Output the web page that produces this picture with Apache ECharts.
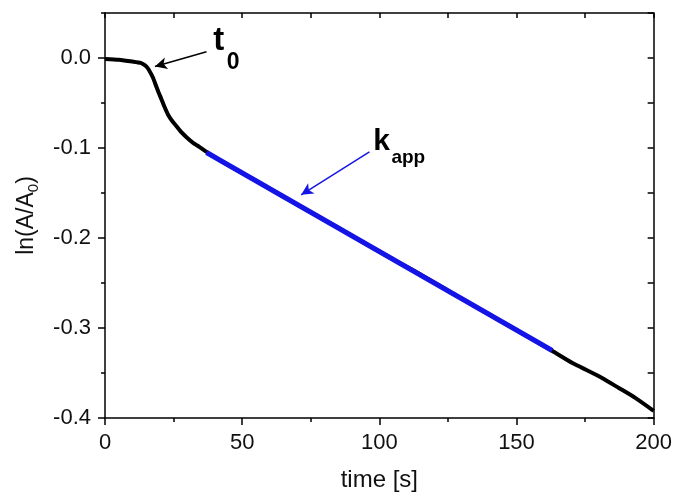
<!DOCTYPE html>
<html>
<head>
<meta charset="utf-8">
<script src="https://cdn.jsdelivr.net/npm/echarts@6/dist/echarts.min.js"></script>
<style>
  html, body { margin: 0; padding: 0; background: #fff; }
  #chart { width: 675px; height: 497px; }
</style>
</head>
<body>
<div id="chart"></div>
<script>
// measured curve (black)
const timeData = [0, 5, 10, 13, 14.5, 15.5, 16.5, 17.5, 18.5, 19.5, 20.6, 21.8, 23, 24.5, 26, 28, 29.7, 32, 34.5, 38.2, 45, 55, 65, 75, 85, 95, 105, 115, 125, 135, 145, 155, 162.5, 170.4, 176.4, 181.2, 187.3, 193.3, 200];
const lnData = [-0.001, -0.002, -0.004, -0.0055, -0.008, -0.011, -0.016, -0.022, -0.030, -0.038, -0.046, -0.055, -0.063, -0.070, -0.0755, -0.083, -0.088, -0.094, -0.099, -0.1066, -0.1192, -0.1365, -0.1542, -0.1715, -0.1886, -0.2063, -0.2238, -0.2405, -0.2585, -0.2762, -0.2935, -0.311, -0.3245, -0.339, -0.348, -0.3555, -0.3666, -0.3776, -0.392];
// linear fit (blue)
const fitTime = [37, 163];
const fitData = [-0.105, -0.325];
// y tick labels
const yTicks = [-0.4, -0.3, -0.2, -0.1, 0.0];

// annotation anchors, in data units
const t0Arrow = [[37, 0.007], [18.2, -0.0095]];
const kArrow = [[96.4, -0.1044], [71.5, -0.152]];

const chart = echarts.init(document.getElementById('chart'));
const black = '#000';
const blue = '#1414e6';
const font = 'Liberation Sans, Arial, sans-serif';

const tickStyle = { color: black, width: 1.5 };

const option = {
  backgroundColor: '#fff',
  animation: false,
  grid: { left: 105, right: 20, top: 13, bottom: 75, containLabel: false },
  xAxis: [
    {
      type: 'value', position: 'bottom', min: 0, max: 200, interval: 50,
      axisLine: { show: true, onZero: false, lineStyle: { color: black, width: 1.5 } },
      axisTick: { show: true, inside: false, length: 7, lineStyle: tickStyle },
      minorTick: { show: true, splitNumber: 2, length: 4, lineStyle: tickStyle },
      splitLine: { show: false },
      axisLabel: { color: '#111', fontSize: 22, fontFamily: font, margin: 14 },
      name: 'time [s]', nameLocation: 'middle', nameGap: 50,
      nameTextStyle: { color: '#111', fontSize: 24, fontFamily: font }
    },
    {
      type: 'value', position: 'top', min: 0, max: 200, interval: 25,
      axisLine: { show: true, onZero: false, lineStyle: { color: black, width: 1.5 } },
      axisTick: { show: true, inside: true, length: 5, lineStyle: tickStyle },
      axisLabel: { show: false },
      splitLine: { show: false }
    }
  ],
  yAxis: [
    {
      type: 'value', position: 'left', min: -0.4, max: 0.05, interval: 0.1,
      axisLine: { show: true, onZero: false, lineStyle: { color: black, width: 1.5 } },
      axisTick: { show: true, inside: false, length: 7, lineStyle: tickStyle },
      splitLine: { show: false },
      axisLabel: {
        color: '#111', fontSize: 22, fontFamily: font, margin: 14, showMaxLabel: false,
        formatter: function (v) {
          const hit = yTicks.find(function (t) { return Math.abs(t - v) < 1e-6; });
          return hit === undefined ? '' : hit.toFixed(1);
        }
      },
      name: 'ln(A/A{sub|0})', nameLocation: 'middle', nameGap: 64,
      nameTextStyle: {
        color: '#111', fontSize: 23, fontFamily: font, lineHeight: 28,
        rich: {
          sub: { fontSize: 15, fontFamily: font, color: '#111', verticalAlign: 'bottom', lineHeight: 15 }
        }
      }
    },
    {
      type: 'value', position: 'left', min: -0.4, max: 0.05, interval: 0.05,
      axisLine: { show: false },
      axisTick: { show: true, inside: false, length: 4, lineStyle: tickStyle },
      axisLabel: { show: false },
      splitLine: { show: false }
    },
    {
      type: 'value', position: 'right', min: -0.4, max: 0.05, interval: 0.05,
      axisLine: { show: true, onZero: false, lineStyle: { color: black, width: 1.5 } },
      axisTick: { show: true, inside: true, length: 6, lineStyle: tickStyle },
      axisLabel: { show: false },
      splitLine: { show: false }
    }
  ],
  series: [
    {
      type: 'line', xAxisIndex: 0, yAxisIndex: 0,
      data: timeData.map(function (t, i) { return [t, lnData[i]]; }),
      showSymbol: false, smooth: 0.2,
      lineStyle: { color: black, width: 4 },
      z: 2,
      markLine: {
        silent: true, symbol: ['none', 'arrow'], symbolSize: [9, 12],
        label: { show: false },
        lineStyle: { color: black, width: 1.5, type: 'solid' },
        data: [[{ coord: t0Arrow[0] }, { coord: t0Arrow[1] }]]
      }
    },
    {
      type: 'line', xAxisIndex: 0, yAxisIndex: 0,
      data: fitTime.map(function (t, i) { return [t, fitData[i]]; }),
      showSymbol: false,
      lineStyle: { color: blue, width: 5 },
      z: 5,
      markLine: {
        silent: true, symbol: ['none', 'arrow'], symbolSize: [9, 12],
        label: { show: false },
        lineStyle: { color: blue, width: 1.5, type: 'solid' },
        data: [[{ coord: kArrow[0] }, { coord: kArrow[1] }]]
      }
    }
  ]
};
chart.setOption(option);

// text annotations, placed through the axes
function at(x, y) { return chart.convertToPixel({ xAxisIndex: 0, yAxisIndex: 0 }, [x, y]); }
function label(text, pos, size) {
  return {
    type: 'text', x: pos[0], y: pos[1], z: 10,
    style: { text: text, fill: '#000', font: 'bold ' + size + 'px ' + font, verticalAlign: 'middle' }
  };
}
chart.setOption({
  graphic: [
    label('t', at(39.5, 0.0193), 33),
    label('0', at(44.4, -0.0057), 23),
    label('k', at(97.8, -0.0925), 30),
    label('app', at(104.4, -0.1108), 19)
  ]
});
</script>
</body>
</html>
